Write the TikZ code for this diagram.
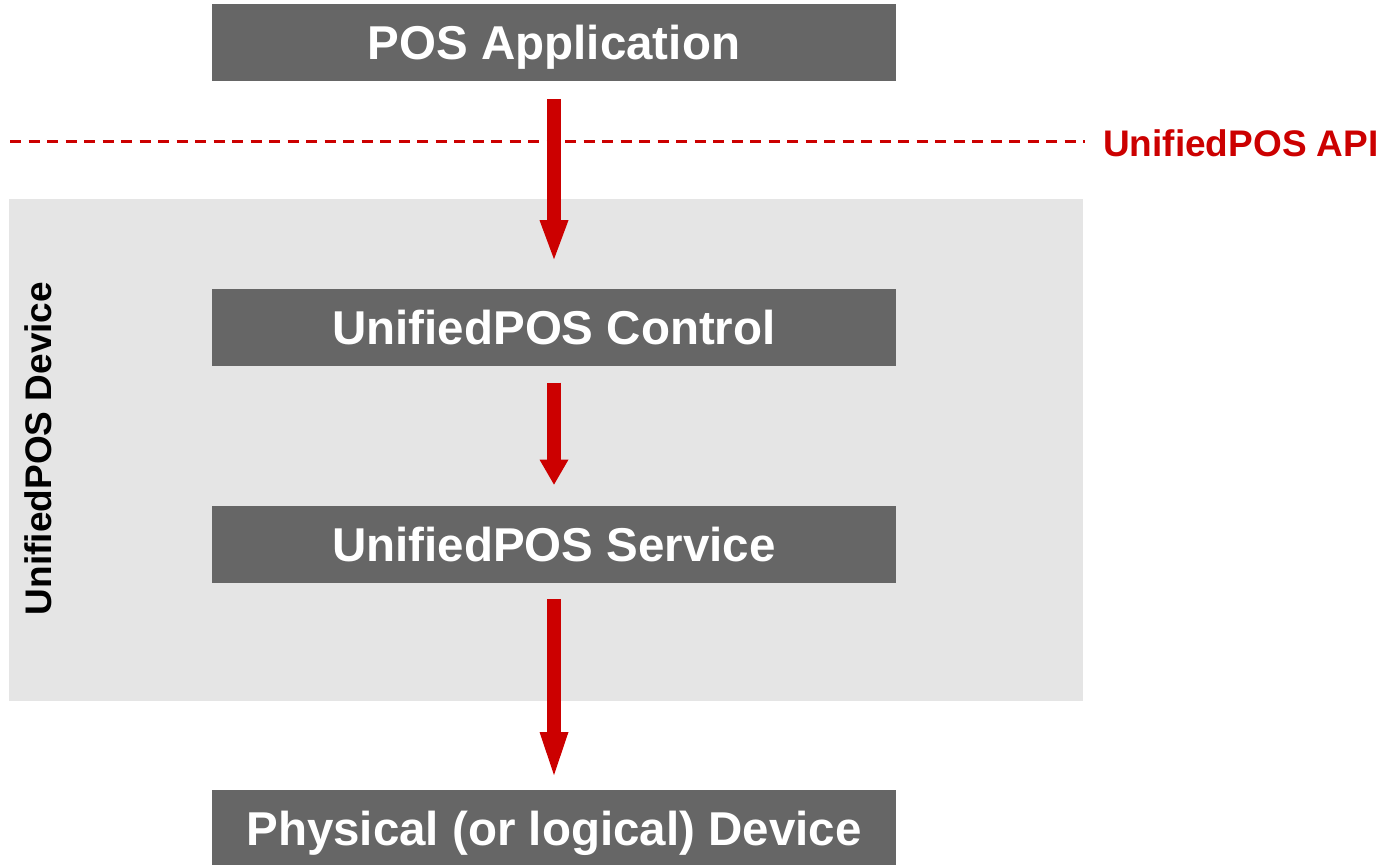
\documentclass[tikz,border=0pt]{standalone}
\usepackage{fontspec}
\setmainfont{Liberation Sans}
\usetikzlibrary{arrows.meta, positioning}
\definecolor{boxgray}{HTML}{666666}
\definecolor{bggray}{HTML}{E5E5E5}
\definecolor{apired}{HTML}{CC0000}

\begin{document}
\begin{tikzpicture}[
    x=1pt, y=-1pt,
    node distance=208pt,
    layer/.style={fill=boxgray, text=white, minimum width=684pt, minimum height=77pt, inner sep=0pt, text height=34pt, text depth=0pt, font=\fontsize{47.5}{50}\selectfont\bfseries},
    devbox/.style={fill=bggray, minimum width=1074pt, minimum height=502pt, inner sep=0pt},
    side/.style={font=\fontsize{37}{40}\selectfont\bfseries, inner sep=0pt},
    flow/.style={-{Triangle[length=#1, width=29pt, line width=0pt]}, line width=14pt, apired},
    apiline/.style={apired, line width=3pt, dash pattern=on 11pt off 7.5pt}
  ]
    \useasboundingbox (0,0) rectangle (1398,865);
    % device frame behind the stack
    \node[devbox] (device) at (546,450) {};
    \node[side, rotate=90] (devlabel) at (38.5,448.5) {UnifiedPOS Device};
    % layers
    \node[layer] (app) at (554,42.5) {POS Application};
    \node[layer, below=of app] (ctl) {UnifiedPOS Control};
    \node[layer, below=139pt of ctl] (svc) {UnifiedPOS Service};
    \node[layer, below=207pt of svc] (phys) {Physical (or logical) Device};
    % api boundary
    \node[side, text=apired, anchor=base west] (api) at (1103,156) {UnifiedPOS API};
    \coordinate (apiL) at (10,141);
    \coordinate (apiR) at (1085,141);
    \draw[apiline] (apiL) -- (apiR);
    % calls
    \draw[flow=39pt, shorten <=18pt, shorten >=30pt] (app.south) -- (ctl.north);
    \draw[flow=25pt, shorten <=16pt, shorten >=21pt] (ctl.south) -- (svc.north);
    \draw[flow=43pt, shorten <=16pt, shorten >=15pt] (svc.south) -- (phys.north);
\end{tikzpicture}
\end{document}
